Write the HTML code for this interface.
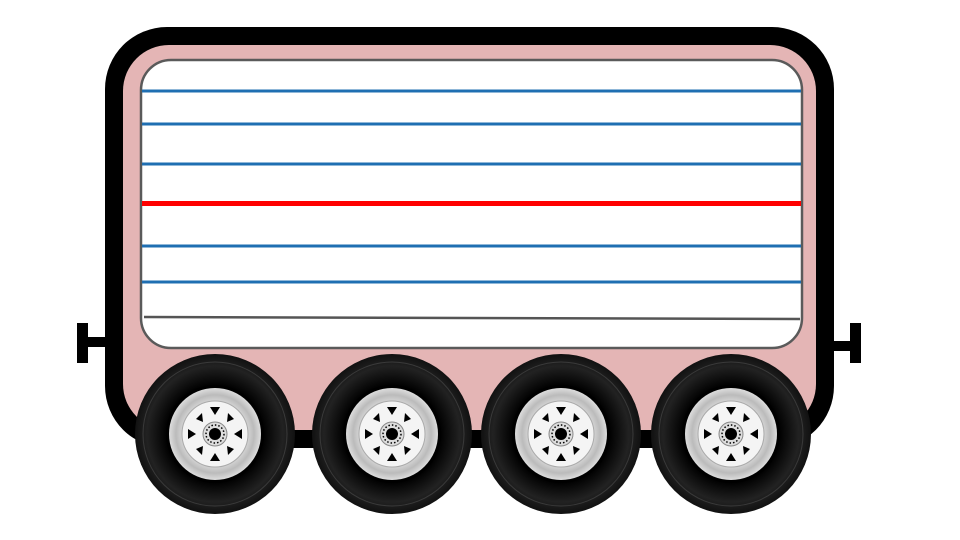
<!DOCTYPE html>
<html><head><meta charset="utf-8"><style>body{margin:0;background:#fff}svg{display:block}</style></head><body>
<svg width="960" height="540" viewBox="0 0 960 540" xmlns="http://www.w3.org/2000/svg">
<defs>
<radialGradient id="rim" cx="50%" cy="50%" r="50%">
<stop offset="0" stop-color="#fff"/><stop offset="0.6" stop-color="#e8e8e8"/><stop offset="0.85" stop-color="#bbb"/><stop offset="1" stop-color="#ddd"/>
</radialGradient>
<radialGradient id="tire" cx="50%" cy="50%" r="50%">
<stop offset="0.6" stop-color="#000"/><stop offset="0.85" stop-color="#222"/><stop offset="1" stop-color="#111"/>
</radialGradient>
<g id="wheel">
<circle r="80" fill="url(#tire)"/>
<circle r="72" fill="none" stroke="#3a3a3a" stroke-width="1"/>
<circle r="49" fill="#000"/>
<circle r="46" fill="url(#rim)"/>
<circle r="33" fill="#f4f4f4" stroke="#aaa" stroke-width="1"/>
<g fill="#000">
<path d="M-5,-27 L5,-27 L0,-19 Z"/><path d="M-5,27 L5,27 L0,19 Z"/>
<path d="M-27,-5 L-27,5 L-19,0 Z"/><path d="M27,-5 L27,5 L19,0 Z"/>
<path d="M-19,-15 L-13,-21 L-12,-12 Z"/><path d="M19,-15 L13,-21 L12,-12 Z"/>
<path d="M-19,15 L-13,21 L-12,12 Z"/><path d="M19,15 L13,21 L12,12 Z"/>
</g>
<circle r="12" fill="#ddd" stroke="#888"/>
<circle r="9" fill="none" stroke="#000" stroke-width="1.5" stroke-dasharray="1.5 2"/>
<circle r="6" fill="#000"/>
</g>
</defs>
<!-- couplers -->
<rect x="77" y="323" width="11" height="40" fill="#000"/>
<rect x="86" y="337" width="22" height="10" fill="#000"/>
<rect x="850" y="323" width="11" height="40" fill="#000"/>
<rect x="828" y="341" width="24" height="10" fill="#000"/>
<!-- body -->
<rect x="105" y="27" width="729" height="421" rx="62" fill="#000"/>
<rect x="123" y="45" width="693" height="385" rx="46" fill="#e4b5b5"/>
<rect x="141" y="60" width="661" height="288" rx="30" fill="#fff" stroke="#5a5a5a" stroke-width="2.5"/>
<g stroke="#1f6fb2" stroke-width="3">
<line x1="142" y1="91" x2="801" y2="91"/>
<line x1="142" y1="124" x2="801" y2="124"/>
<line x1="142" y1="164" x2="801" y2="164"/>
<line x1="142" y1="246" x2="801" y2="246"/>
<line x1="142" y1="282" x2="801" y2="282"/>
</g>
<line x1="142" y1="203.5" x2="801" y2="203.5" stroke="#f00" stroke-width="5"/>
<line x1="144" y1="317" x2="800" y2="319" stroke="#555" stroke-width="2.5"/>
<!-- wheels -->
<use href="#wheel" x="215" y="434"/>
<use href="#wheel" x="392" y="434"/>
<use href="#wheel" x="561" y="434"/>
<use href="#wheel" x="731" y="434"/>
</svg>
</body></html>
